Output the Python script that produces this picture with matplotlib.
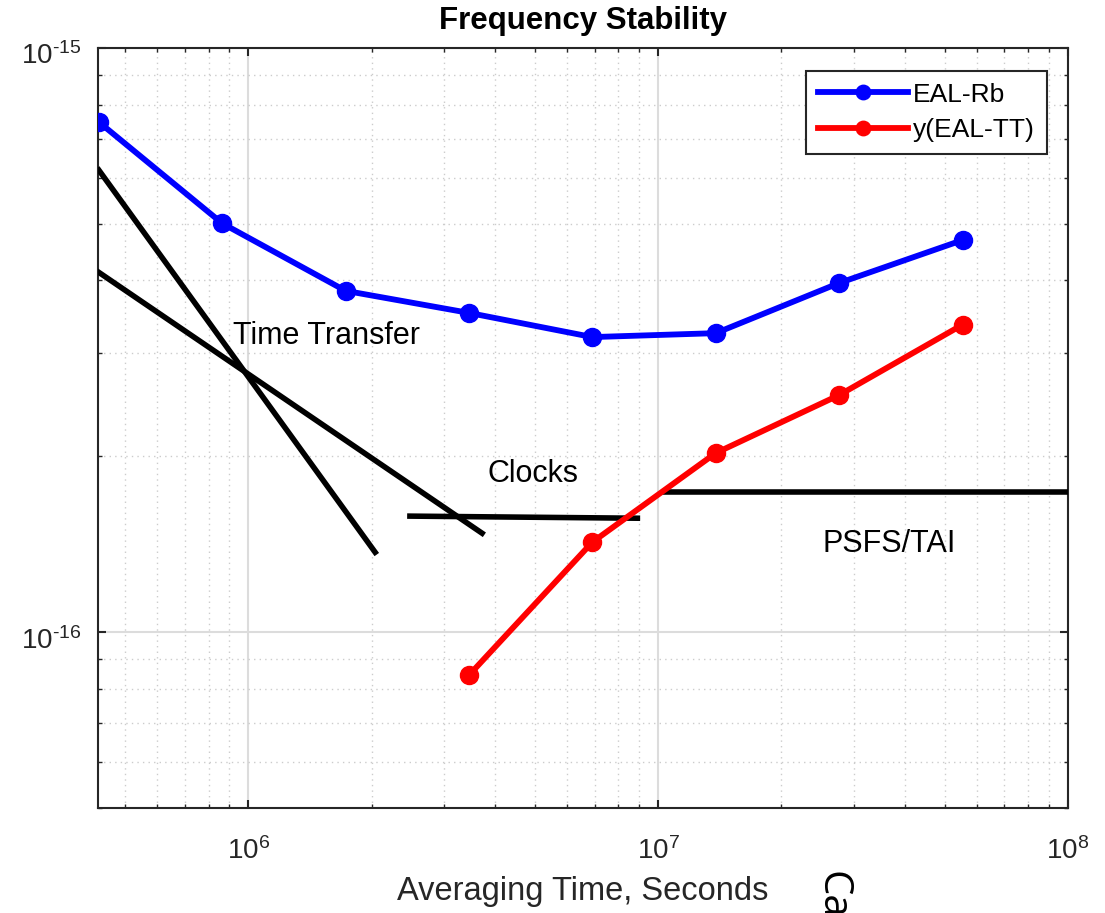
import numpy as np
import matplotlib
matplotlib.use("Agg")
import matplotlib.pyplot as plt
from matplotlib.ticker import FuncFormatter
from matplotlib.transforms import ScaledTranslation

plt.rcParams['font.family'] = ['Liberation Sans', 'DejaVu Sans']
plt.rcParams['mathtext.fontset'] = 'custom'
plt.rcParams['mathtext.rm'] = 'Liberation Sans'
plt.rcParams['mathtext.it'] = 'Liberation Sans:italic'
plt.rcParams['mathtext.bf'] = 'Liberation Sans:bold'

# averaging times: 5 days doubled each step
tau = [432000, 864000, 1728000, 3456000, 6912000, 13824000, 27648000, 55296000]
eal_rb = [7.47e-16, 5.01e-16, 3.84e-16, 3.52e-16, 3.20e-16, 3.25e-16, 3.96e-16, 4.69e-16]

tau_tt = [3456000, 6912000, 13824000, 27648000, 55296000]
eal_tt = [8.44e-17, 1.426e-16, 2.026e-16, 2.546e-16, 3.36e-16]

# reference slopes / floors
tt_steep_x = [432000, 2.04e6]
tt_steep_y = [6.18e-16, 1.37e-16]
tt_shallow_x = [432000, 3.72e6]
tt_shallow_y = [4.13e-16, 1.477e-16]
clocks_x = [2.48e6, 8.9e6]
clocks_y = [1.58e-16, 1.567e-16]
psfs_x = [1.04e7, 1e8]
psfs_y = [1.738e-16, 1.738e-16]


def pow10(v, pos):
    e = int(round(np.log10(v)))
    if e < 0:
        return r'$10^{\text{-}%d}$' % (-e)
    return r'$10^{%d}$' % e


fig = plt.figure(figsize=(11.05, 9.13), dpi=100)
ax = fig.add_axes([0.0887, 0.115, 0.8778, 0.8324])

ax.plot(tau, eal_rb, '-o', color='blue', lw=4.2, ms=13, label='EAL-Rb', zorder=4)
ax.plot(tau_tt, eal_tt, '-o', color='red', lw=4.2, ms=13, label='y(EAL-TT)', zorder=4)
for xs, ys in [(tt_steep_x, tt_steep_y), (tt_shallow_x, tt_shallow_y),
               (clocks_x, clocks_y), (psfs_x, psfs_y)]:
    ax.plot(xs, ys, color='black', lw=4, zorder=3)

ax.set_xscale('log')
ax.set_yscale('log')
ax.set_xlim(4.3e5, 1e8)
ax.set_ylim(5e-17, 1e-15)
ax.xaxis.set_major_formatter(FuncFormatter(pow10))
ax.yaxis.set_major_formatter(FuncFormatter(pow10))

ax.text(9.19e5, 3.21e-16, 'Time Transfer', fontsize=22, va='center', ha='left')
ax.text(3.84e6, 1.866e-16, 'Clocks', fontsize=22, va='center', ha='left')
ax.text(2.52e7, 1.415e-16, 'PSFS/TAI', fontsize=22, va='center', ha='left')

ax.grid(True, which='major', color='#dcdcdc', lw=1.5, ls='-')
ax.grid(True, which='minor', color='#cccccc', lw=1.0, ls=(0, (1, 3)))
ax.set_axisbelow(True)

for s in ax.spines.values():
    s.set_color('#262626')
    s.set_linewidth(1.5)
ax.tick_params(which='both', direction='in', top=True, right=True, colors='#262626')
ax.tick_params(which='major', length=6, width=1.5, labelsize=20, labelcolor='#262626')
ax.tick_params(axis='x', which='major', pad=21)
ax.tick_params(axis='y', which='major', pad=12)
ax.tick_params(which='minor', length=3, width=1.0)
ax.tick_params(axis='y', which='minor', labelleft=False)
ax.tick_params(axis='x', which='minor', labelbottom=False)

# nudge y tick labels down a little
shift = ScaledTranslation(0, -4 / 72, fig.dpi_scale_trans)
for lab in ax.get_yticklabels():
    lab.set_transform(lab.get_transform() + shift)

ax.set_title('Frequency Stability', fontsize=22.5, fontweight='bold', pad=14)
ax.set_xlabel('Averaging Time, Seconds', fontsize=23.5, color='#262626', labelpad=8)

leg = ax.legend(loc='upper right', bbox_to_anchor=(0.978, 0.970), borderaxespad=0,
                fontsize=19, handlelength=3.4, fancybox=False, framealpha=1,
                labelspacing=0.42, handletextpad=0.2, borderpad=0.45, markerscale=0.8)
leg.get_frame().set_edgecolor('#262626')
leg.get_frame().set_linewidth(1.5)

fig.text(832 / 1105, 1 - 871 / 913, 'Ca', fontsize=29, rotation=270,
         ha='center', va='top', family=['Open Sans', 'DejaVu Sans'])

fig.savefig('out.png', dpi=100)
